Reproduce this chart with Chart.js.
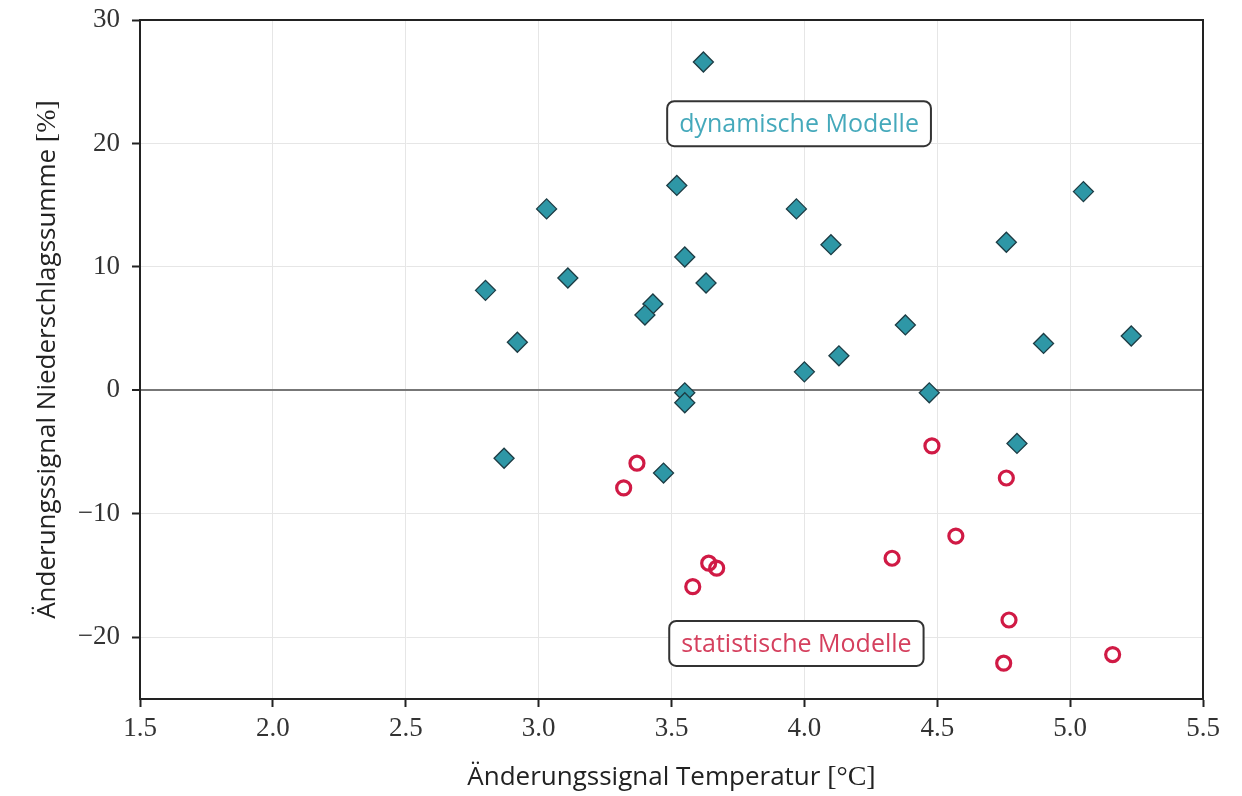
<!DOCTYPE html>
<html>
<head>
<meta charset="utf-8">
<script src="https://cdn.jsdelivr.net/npm/chart.js@4"></script>
<style>
  html, body { margin: 0; padding: 0; background: #fff; }
  #wrap { width: 1242px; height: 796px; }
</style>
</head>
<body>
<div id="wrap"><canvas id="scatter" width="1242" height="796"></canvas></div>
<script>
// dynamische Modelle (Temperatur, Niederschlag)
var dynT = [3.62, 3.52, 3.03, 3.97, 5.05, 4.10, 4.76, 2.80, 3.11, 3.55, 3.63, 3.43, 3.40,
            2.92, 4.38, 4.90, 5.23, 4.00, 4.13, 3.55, 3.55, 4.47, 4.80, 2.87, 3.47];
var dynP = [26.6, 16.6, 14.7, 14.7, 16.1, 11.8, 12.0, 8.1, 9.1, 10.8, 8.7, 7.0, 6.1,
            3.9, 5.3, 3.8, 4.4, 1.5, 2.8, -0.2, -1.0, -0.2, -4.3, -5.5, -6.7];
// statistische Modelle
var statT = [3.37, 3.32, 3.64, 3.67, 3.58, 4.48, 4.76, 4.57, 4.33, 4.77, 4.75, 5.16];
var statP = [-5.9, -7.9, -14.0, -14.4, -15.9, -4.5, -7.1, -11.8, -13.6, -18.6, -22.1, -21.4];

var xTicks = [1.5, 2.0, 2.5, 3.0, 3.5, 4.0, 4.5, 5.0, 5.5];
var yTicks = [-20, -10, 0, 10, 20, 30];

var xTitle = "Änderungssignal Temperatur";
var xUnit = "[°C]";
var yTitle = "Änderungssignal Niederschlagssumme";
var yUnit = "[%]";
var labelDyn = "dynamische Modelle";
var labelStat = "statistische Modelle";

function pts(xs, ys) {
    var out = [];
    for (var i = 0; i < xs.length; i++) out.push({x: xs[i], y: ys[i]});
    return out;
}

var SERIF = "'Liberation Serif', 'DejaVu Serif', serif";
var SANS = "'Open Sans', 'Noto Sans', sans-serif";

// frame, boxed labels, axis titles
var extras = {
    id: "extras",
    afterDatasetsDraw: function(chart) {
        var ctx = chart.ctx;
        var a = chart.chartArea;
        var xs = chart.scales.x, ys = chart.scales.y;
        ctx.save();
        ctx.strokeStyle = "#222";
        ctx.lineWidth = 2;
        ctx.strokeRect(a.left, a.top, a.right - a.left, a.bottom - a.top);

        function box(text, cx, cy, col) {
            ctx.font = "25px " + SANS;
            var w = ctx.measureText(text).width + 24;
            var h = 45;
            var x0 = cx - w / 2, y0 = cy - h / 2;
            ctx.beginPath();
            ctx.roundRect(x0, y0, w, h, 7);
            ctx.fillStyle = "#fff";
            ctx.fill();
            ctx.lineWidth = 2;
            ctx.strokeStyle = "#333";
            ctx.stroke();
            ctx.fillStyle = col;
            ctx.textAlign = "center";
            ctx.textBaseline = "middle";
            ctx.fillText(text, cx, cy + 1);
        }
        box(labelDyn, xs.getPixelForValue(3.98), ys.getPixelForValue(21.6), "#45a9bb");
        box(labelStat, xs.getPixelForValue(3.97), ys.getPixelForValue(-20.5), "#d5405e");

        // x title: sans text + serif unit
        ctx.fillStyle = "#222";
        ctx.textBaseline = "alphabetic";
        ctx.textAlign = "left";
        ctx.font = "26px " + SANS;
        var t1 = xTitle + " ";
        var w1 = ctx.measureText(t1).width;
        ctx.font = "28px " + SERIF;
        var w2 = ctx.measureText(xUnit).width;
        var sx = (a.left + a.right) / 2 - (w1 + w2) / 2;
        ctx.font = "26px " + SANS;
        ctx.fillText(t1, sx, 785);
        ctx.font = "28px " + SERIF;
        ctx.fillText(xUnit, sx + w1, 785);

        // y title rotated
        ctx.save();
        ctx.translate(55, (a.top + a.bottom) / 2);
        ctx.rotate(-Math.PI / 2);
        ctx.font = "26px " + SANS;
        var u1 = yTitle + " ";
        var v1 = ctx.measureText(u1).width;
        ctx.font = "28px " + SERIF;
        var v2 = ctx.measureText(yUnit).width;
        var sy = -(v1 + v2) / 2;
        ctx.font = "26px " + SANS;
        ctx.fillText(u1, sy, 0);
        ctx.font = "28px " + SERIF;
        ctx.fillText(yUnit, sy + v1, 0);
        ctx.restore();

        ctx.restore();
    }
};

function fmt(v) {
    return String(v).replace("-", "\u2212");
}

new Chart(document.getElementById("scatter"), {
    type: "scatter",
    data: {
        datasets: [
            {
                label: labelStat,
                data: pts(statT, statP),
                pointStyle: "circle",
                pointRadius: 7,
                pointHoverRadius: 7,
                borderWidth: 3.2,
                borderColor: "#d01a45",
                backgroundColor: "rgba(255,255,255,0)"
            },
            {
                label: labelDyn,
                data: pts(dynT, dynP),
                pointStyle: "rectRot",
                pointRadius: 10,
                pointHoverRadius: 10,
                borderWidth: 1.3,
                borderColor: "#1d3c44",
                backgroundColor: "#2e97a6"
            }
        ]
    },
    options: {
        responsive: false,
        animation: false,
        events: [],
        layout: { padding: { top: 20, right: 39, left: 0, bottom: 0 } },
        plugins: {
            legend: { display: false },
            tooltip: { enabled: false }
        },
        scales: {
            x: {
                type: "linear",
                min: 1.5,
                max: 5.5,
                afterBuildTicks: function(s) { s.ticks = xTicks.map(function(v) { return {value: v}; }); },
                afterFit: function(s) { s.height = 97; s.paddingLeft = 0; s.paddingRight = 0; },
                ticks: {
                    color: "#333",
                    font: { family: SERIF, size: 27 },
                    padding: 6,
                    maxRotation: 0,
                    callback: function(v) { return v.toFixed(1); }
                },
                grid: {
                    color: "#e6e6e6",
                    lineWidth: 1,
                    tickColor: "#222",
                    tickLength: 8,
                    tickWidth: 2
                },
                border: { color: "#222", width: 2 }
            },
            y: {
                type: "linear",
                min: -25,
                max: 30,
                afterBuildTicks: function(s) { s.ticks = yTicks.map(function(v) { return {value: v}; }); },
                afterFit: function(s) { s.width = 140; s.paddingTop = 0; s.paddingBottom = 0; },
                ticks: {
                    color: "#333",
                    font: { family: SERIF, size: 27 },
                    padding: 12,
                    callback: function(v) { return fmt(v); }
                },
                grid: {
                    color: function(c) { return c.tick && c.tick.value === 0 ? "#777" : "#e6e6e6"; },
                    lineWidth: function(c) { return c.tick && c.tick.value === 0 ? 2 : 1; },
                    tickColor: "#222",
                    tickLength: 8,
                    tickWidth: 2
                },
                border: { color: "#222", width: 2 }
            }
        }
    },
    plugins: [extras]
});
</script>
</body>
</html>
